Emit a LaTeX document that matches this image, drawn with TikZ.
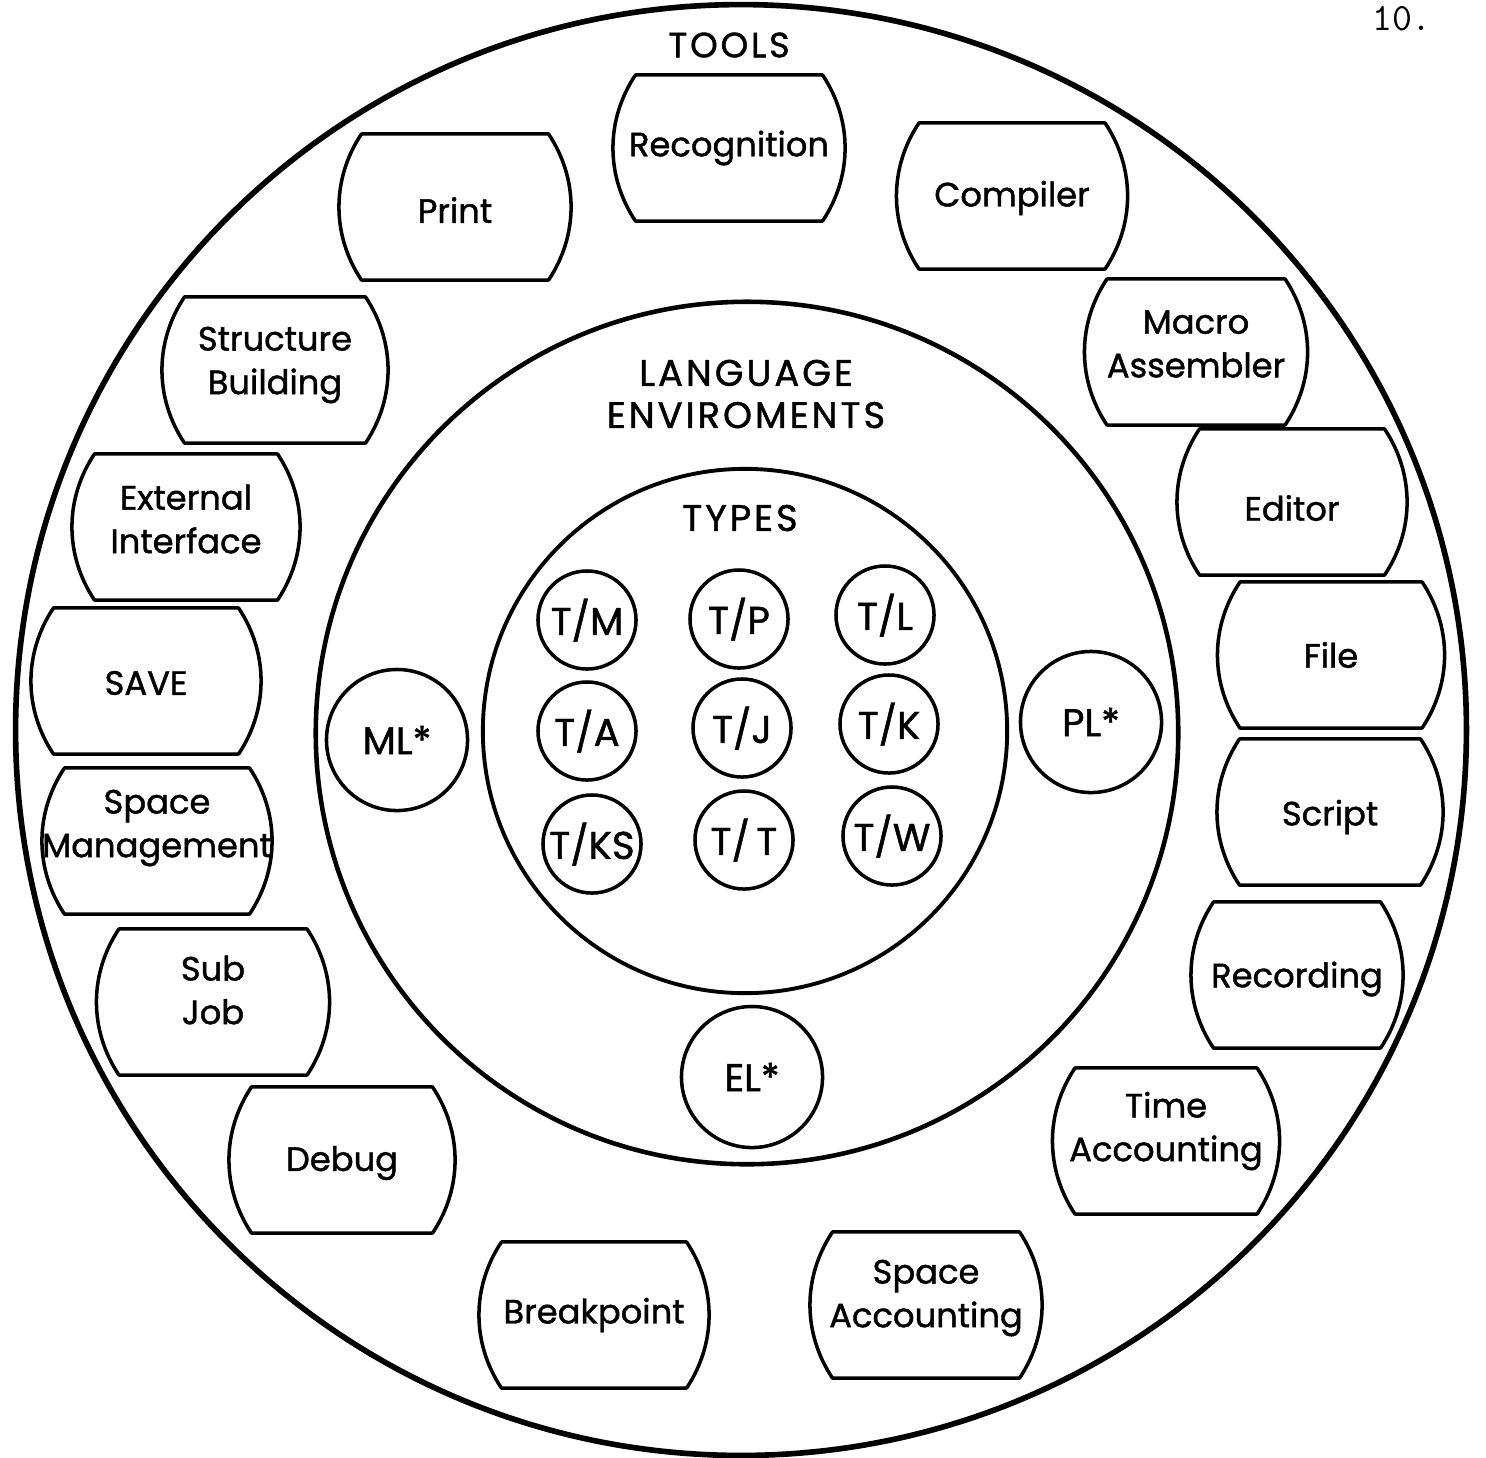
\documentclass[tikz,border=0pt]{standalone}
\usepackage{fontspec}
\setmainfont{Poppins}[FakeBold=1.2]

\begin{document}
\begin{tikzpicture}[x=0.01cm, y=-0.01cm,
  ring/.style={circle, draw, inner sep=0pt, minimum size=#1},
  tool/.style={font=\fontsize{9.6}{12.4}\selectfont, align=center, inner sep=0pt},
  lang/.style={circle, draw, line width=1pt, inner sep=0pt, minimum size=1.41cm,
               font=\fontsize{11}{13}\selectfont},
  typ/.style={circle, draw, line width=1pt, inner sep=0pt, minimum size=0.98cm,
              font=\fontsize{11}{13}\selectfont},
  head/.style={font=\fontsize{10.5}{12}\selectfont\addfontfeatures{LetterSpace=8}, align=center},
  rim/.style={line width=1pt, line join=round}]
  \useasboundingbox (0,0) rectangle (1486,1457);
  % page number
  \node[anchor=base, font=\ttfamily\fontsize{11}{13}\selectfont] (pageno) at (1402,30) {10.};
  % the three rings
  \node[ring=14.5cm, line width=1.6pt] (toolring) at (741,730) {};
  \node[ring=8.62cm, line width=1.3pt] (langring) at (747,733) {};
  \node[ring=5.24cm, line width=1.1pt] (typering) at (745,731) {};
  \node[head, font=\fontsize{10}{12}\selectfont\addfontfeatures{LetterSpace=8}] (toolstitle) at (729,45) {TOOLS};
  \node[head] (langtitle)  at (746,394) {LANGUAGE\\ENVIROMENTS};
  \node[head] (typestitle) at (740,518) {TYPES};
  % types
  \node[typ] (tm)  at (587,620) {T/M};
  \node[typ] (tp)  at (739,619) {T/P};
  \node[typ] (tl)  at (885,615) {T/L};
  \node[typ] (ta)  at (587,731) {T/A};
  \node[typ] (tj)  at (742,728) {T/J};
  \node[typ] (tk)  at (889,724) {T/K};
  \node[typ] (tks) at (592,844) {T/KS};
  \node[typ] (tt)  at (744,840) {T/\,T};
  \node[typ] (tw)  at (892,836) {T/W};
  % language environments
  \node[lang] (ml) at (397,740)  {ML*};
  \node[lang] (pl) at (1091,722) {PL*};
  \node[lang] (el) at (752,1077) {EL*};
  % tools, clockwise from the top
  \node[tool] (recog)    at (729,148)  {Recognition};
  \node[tool] (comp)     at (1012,198) {Compiler};
  \node[tool] (macro)    at (1196,344) {Macro\\Assembler};
  \node[tool] (editor)   at (1292,508) {Editor};
  \node[tool] (file)     at (1331,655) {File};
  \node[tool] (script)   at (1330,817) {Script};
  \node[tool] (record)   at (1297,979) {Recording};
  \node[tool] (timeacc)  at (1166,1131) {Time\\Accounting};
  \node[tool] (spaceacc) at (926,1298) {Space\\Accounting};
  \node[tool] (brk)      at (594,1315) {Breakpoint};
  \node[tool] (debug)    at (342,1163) {Debug};
  \node[tool] (subjob)   at (213,990)  {Sub\\Job};
  \node[tool] (spacem)   at (157,828)  {Space\\Management};
  \node[tool] (save)     at (146,683)  {SAVE};
  \node[tool] (ext)      at (186,519)  {External\\Interface};
  \node[tool] (struct)   at (275,365)  {Structure\\Building};
  \node[tool] (print)    at (455,210)  {Print};
  % barrel outlines: name / top width (cm) / drop of the box below its text (px)
  \foreach \n/\w/\d in {recog/1.87/0, comp/1.86/-2, macro/1.78/8, editor/1.85/-6,
      file/1.82/0, script/1.81/-5, record/1.67/-4, timeacc/1.82/10, spaceacc/1.87/7,
      brk/1.85/0, debug/1.81/-3, subjob/1.88/12, spacem/1.85/13, save/1.85/-2,
      ext/1.83/8, struct/1.81/5, print/1.87/-3}
    \draw[rim] (\n.center) ++({-\w*0.5cm}, {0.73cm-\d*0.01cm}) -- ++({\w*1cm},0)
      .. controls +(0.3cm,-0.45cm) and +(0.3cm,0.45cm) .. ++(0,-1.46cm)
      -- ++({-\w*1cm},0)
      .. controls +(-0.3cm,0.45cm) and +(-0.3cm,-0.45cm) .. ++(0,1.46cm) -- cycle;
\end{tikzpicture}
\end{document}
